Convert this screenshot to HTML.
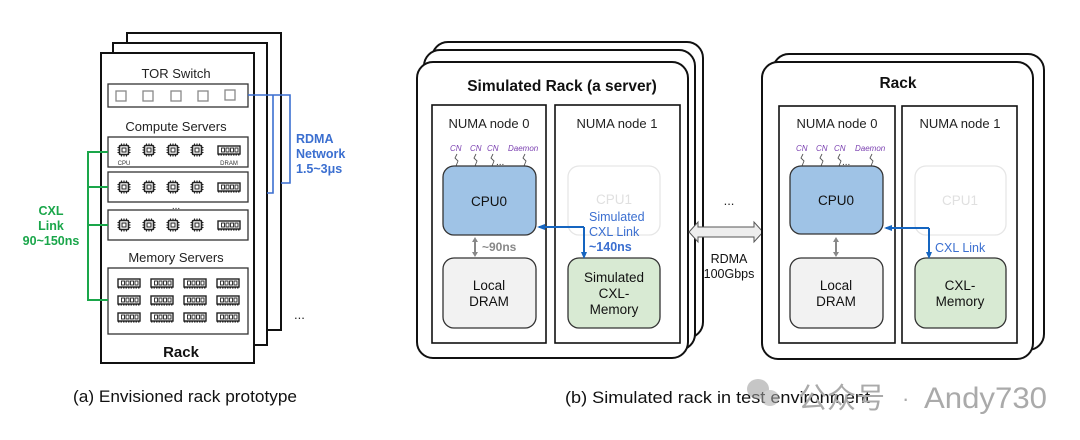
<!DOCTYPE html>
<html><head><meta charset="utf-8"><style>
html,body{margin:0;padding:0;background:#fff;}
svg{display:block;font-family:"Liberation Sans",Arial,sans-serif;}
</style></head><body>
<svg width="1080" height="440" viewBox="0 0 1080 440" xmlns="http://www.w3.org/2000/svg">
<defs>
<g id="chip">
<rect x="-4.5" y="-4.5" width="9" height="9" rx="1" fill="none" stroke="#222" stroke-width="1.6"/>
<rect x="-2" y="-2" width="4" height="4" fill="none" stroke="#222" stroke-width="1"/>
<path d="M-2.5,-4.5v-2M0,-4.5v-2M2.5,-4.5v-2M-2.5,4.5v2M0,4.5v2M2.5,4.5v2M-4.5,-2.5h-2M-4.5,0h-2M-4.5,2.5h-2M4.5,-2.5h2M4.5,0h2M4.5,2.5h2" stroke="#222" stroke-width="1.1"/>
</g>
<g id="dram">
<rect x="-11" y="-4" width="22" height="8" fill="none" stroke="#222" stroke-width="1.4"/>
<rect x="-7.5" y="-2" width="3" height="4" fill="none" stroke="#222" stroke-width="0.9"/>
<rect x="-3" y="-2" width="3" height="4" fill="none" stroke="#222" stroke-width="0.9"/>
<rect x="1.5" y="-2" width="3" height="4" fill="none" stroke="#222" stroke-width="0.9"/>
<rect x="6" y="-2" width="3" height="4" fill="none" stroke="#222" stroke-width="0.9"/>
<path d="M-11,5h22" stroke="#222" stroke-width="1" stroke-dasharray="1.5 1"/>
</g>
</defs>

<!-- (a) rack stacks -->
<rect x="127" y="33" width="154" height="297" fill="#fff" stroke="#111" stroke-width="2"/>
<rect x="113" y="43" width="154" height="302" fill="#fff" stroke="#111" stroke-width="2"/>
<rect x="101" y="53" width="153" height="310" fill="#fff" stroke="#111" stroke-width="2"/>
<text x="176" y="78" font-size="13" text-anchor="middle" fill="#222">TOR Switch</text>
<rect x="108" y="84" width="140" height="23" fill="#fff" stroke="#333" stroke-width="1.3"/>
<g fill="none" stroke="#888" stroke-width="1.3">
<rect x="116" y="91" width="10" height="10"/><rect x="143" y="91" width="10" height="10"/><rect x="171" y="91" width="10" height="10"/><rect x="198" y="91" width="10" height="10"/><rect x="225" y="90" width="10" height="10"/>
</g>
<text x="176" y="131" font-size="13" text-anchor="middle" fill="#222">Compute Servers</text>
<rect x="108" y="137" width="140" height="30" fill="#fff" stroke="#333" stroke-width="1.3"/>
<rect x="108" y="172" width="140" height="30" fill="#fff" stroke="#333" stroke-width="1.3"/>
<rect x="108" y="210" width="140" height="30" fill="#fff" stroke="#333" stroke-width="1.3"/>
<text x="176" y="209" font-size="10" text-anchor="middle" fill="#222">...</text>
<use href="#chip" x="124" y="150"/><use href="#chip" x="149" y="150"/><use href="#chip" x="173" y="150"/><use href="#chip" x="197" y="150"/><use href="#dram" x="229" y="150"/>
<text x="124" y="165" font-size="6" text-anchor="middle" fill="#333">CPU</text>
<text x="229" y="165" font-size="6" text-anchor="middle" fill="#333">DRAM</text>
<use href="#chip" x="124" y="187"/><use href="#chip" x="149" y="187"/><use href="#chip" x="173" y="187"/><use href="#chip" x="197" y="187"/><use href="#dram" x="229" y="187"/>
<use href="#chip" x="124" y="225"/><use href="#chip" x="149" y="225"/><use href="#chip" x="173" y="225"/><use href="#chip" x="197" y="225"/><use href="#dram" x="229" y="225"/>
<text x="176" y="262" font-size="13" text-anchor="middle" fill="#222">Memory Servers</text>
<rect x="108" y="268" width="140" height="66" fill="#fff" stroke="#333" stroke-width="1.3"/>
<use href="#dram" x="129" y="283"/><use href="#dram" x="162" y="283"/><use href="#dram" x="195" y="283"/><use href="#dram" x="228" y="283"/>
<use href="#dram" x="129" y="300"/><use href="#dram" x="162" y="300"/><use href="#dram" x="195" y="300"/><use href="#dram" x="228" y="300"/>
<use href="#dram" x="129" y="317"/><use href="#dram" x="162" y="317"/><use href="#dram" x="195" y="317"/><use href="#dram" x="228" y="317"/>
<text x="181" y="357" font-size="15" font-weight="bold" text-anchor="middle" fill="#111">Rack</text>
<text x="294" y="319" font-size="13" fill="#222">...</text>
<!-- green CXL -->
<path d="M108,152H88V300H108M88,187H108M88,225H108" fill="none" stroke="#1aa64a" stroke-width="2"/>
<text font-size="12.5" font-weight="bold" fill="#1aa64a" text-anchor="middle"><tspan x="51" y="215">CXL</tspan><tspan x="51" y="230">Link</tspan><tspan x="51" y="245">90~150ns</tspan></text>
<!-- blue RDMA -->
<path d="M248,95H290V183H281M254,95H273V193H267" fill="none" stroke="#3b6fd0" stroke-width="1.6"/>
<text font-size="12.5" font-weight="bold" fill="#3b6fd0"><tspan x="296" y="143">RDMA</tspan><tspan x="296" y="158">Network</tspan><tspan x="296" y="173">1.5~3μs</tspan></text>
<text x="73" y="402" font-size="16.5" fill="#111" textLength="224" lengthAdjust="spacingAndGlyphs">(a) Envisioned rack prototype</text>

<!-- (b) simulated rack -->
<rect x="432" y="42" width="271" height="296" rx="16" fill="#fff" stroke="#111" stroke-width="2"/>
<rect x="424" y="50" width="271" height="300" rx="16" fill="#fff" stroke="#111" stroke-width="2"/>
<rect x="417" y="62" width="271" height="296" rx="16" fill="#fff" stroke="#111" stroke-width="2"/>
<text x="562" y="91" font-size="15.5" font-weight="bold" text-anchor="middle" fill="#111">Simulated Rack (a server)</text>
<rect x="432" y="105" width="114" height="238" fill="#fff" stroke="#111" stroke-width="1.6"/>
<rect x="555" y="105" width="125" height="238" fill="#fff" stroke="#111" stroke-width="1.6"/>
<text x="489" y="128" font-size="13" text-anchor="middle" fill="#222">NUMA node 0</text>
<text x="617" y="128" font-size="13" text-anchor="middle" fill="#222">NUMA node 1</text>
<g font-size="8" font-style="italic" fill="#7a3fb0"><text x="450" y="151">CN</text><text x="470" y="151">CN</text><text x="487" y="151">CN</text><text x="508" y="151">Daemon</text></g>
<path d="M457,154l-2,4l3,3l-2,5M476,154l-2,4l3,3l-2,5M493,154l-2,4l3,3l-2,5M525,154l-2,4l3,3l-2,5" fill="none" stroke="#555" stroke-width="0.9"/>
<text x="496" y="165" font-size="10" fill="#333">...</text>
<rect x="443" y="166" width="93" height="69" rx="11" fill="#9fc3e6" stroke="#333" stroke-width="1.3"/>
<text x="489" y="206" font-size="13.5" text-anchor="middle" fill="#111">CPU0</text>
<rect x="568" y="166" width="92" height="69" rx="11" fill="#fff" stroke="#e6e6e6" stroke-width="1.3"/>
<text x="614" y="204" font-size="13.5" text-anchor="middle" fill="#e0e0e0">CPU1</text>
<rect x="443" y="258" width="93" height="70" rx="11" fill="#f2f2f2" stroke="#333" stroke-width="1.3"/>
<text x="489" y="290" font-size="13.5" text-anchor="middle" fill="#111">Local</text>
<text x="489" y="306" font-size="13.5" text-anchor="middle" fill="#111">DRAM</text>
<rect x="568" y="258" width="92" height="70" rx="11" fill="#d8ead3" stroke="#333" stroke-width="1.3"/>
<text font-size="13.5" text-anchor="middle" fill="#111"><tspan x="614" y="282">Simulated</tspan><tspan x="614" y="298">CXL-</tspan><tspan x="614" y="314">Memory</tspan></text>
<path d="M475,240V254" stroke="#888" stroke-width="2"/>
<path d="M472,242L475,237L478,242z M472,252L475,257L478,252z" fill="#888"/>
<text x="482" y="251" font-size="12" font-weight="bold" fill="#888">~90ns</text>
<path d="M584,227H539M584,227V256" fill="none" stroke="#1565c0" stroke-width="2"/>
<path d="M545,224L537,227L545,230z" fill="#1565c0"/><path d="M581,252L584,259L587,252z" fill="#1565c0"/>
<text font-size="12.5" fill="#3b6fd0"><tspan x="589" y="221">Simulated</tspan><tspan x="589" y="236">CXL Link</tspan><tspan x="589" y="251" font-weight="bold">~140ns</tspan></text>

<!-- RDMA double arrow -->
<path d="M689,232L698,222V227H754V222L763,232L754,242V237H698V242Z" fill="#eee" stroke="#555" stroke-width="1"/>
<text x="729" y="205" font-size="13" text-anchor="middle" fill="#222">...</text>
<text x="729" y="263" font-size="12.5" text-anchor="middle" fill="#111">RDMA</text>
<text x="729" y="278" font-size="12.5" text-anchor="middle" fill="#111">100Gbps</text>

<!-- right rack -->
<rect x="773" y="54" width="271" height="296" rx="16" fill="#fff" stroke="#111" stroke-width="2"/>
<rect x="762" y="62" width="271" height="297" rx="16" fill="#fff" stroke="#111" stroke-width="2"/>
<text x="898" y="88" font-size="15.5" font-weight="bold" text-anchor="middle" fill="#111">Rack</text>
<rect x="779" y="106" width="116" height="237" fill="#fff" stroke="#111" stroke-width="1.6"/>
<rect x="902" y="106" width="115" height="237" fill="#fff" stroke="#111" stroke-width="1.6"/>
<text x="837" y="128" font-size="13" text-anchor="middle" fill="#222">NUMA node 0</text>
<text x="960" y="128" font-size="13" text-anchor="middle" fill="#222">NUMA node 1</text>
<g font-size="8" font-style="italic" fill="#7a3fb0"><text x="796" y="151">CN</text><text x="816" y="151">CN</text><text x="834" y="151">CN</text><text x="855" y="151">Daemon</text></g>
<path d="M803,154l-2,4l3,3l-2,5M822,154l-2,4l3,3l-2,5M840,154l-2,4l3,3l-2,5M872,154l-2,4l3,3l-2,5" fill="none" stroke="#555" stroke-width="0.9"/>
<text x="842" y="165" font-size="10" fill="#333">...</text>
<rect x="790" y="166" width="93" height="68" rx="11" fill="#9fc3e6" stroke="#333" stroke-width="1.3"/>
<text x="836" y="205" font-size="13.5" text-anchor="middle" fill="#111">CPU0</text>
<rect x="915" y="166" width="91" height="69" rx="11" fill="#fff" stroke="#e6e6e6" stroke-width="1.3"/>
<text x="960" y="205" font-size="13.5" text-anchor="middle" fill="#e0e0e0">CPU1</text>
<rect x="790" y="258" width="93" height="70" rx="11" fill="#f2f2f2" stroke="#333" stroke-width="1.3"/>
<text x="836" y="290" font-size="13.5" text-anchor="middle" fill="#111">Local</text>
<text x="836" y="306" font-size="13.5" text-anchor="middle" fill="#111">DRAM</text>
<rect x="915" y="258" width="91" height="70" rx="11" fill="#d8ead3" stroke="#333" stroke-width="1.3"/>
<text x="960" y="290" font-size="13.5" text-anchor="middle" fill="#111">CXL-</text>
<text x="960" y="306" font-size="13.5" text-anchor="middle" fill="#111">Memory</text>
<path d="M836,240V254" stroke="#888" stroke-width="2"/>
<path d="M833,242L836,237L839,242z M833,252L836,257L839,252z" fill="#888"/>
<path d="M929,228H886M929,228V256" fill="none" stroke="#1565c0" stroke-width="2"/>
<path d="M892,225L884,228L892,231z" fill="#1565c0"/><path d="M926,252L929,259L932,252z" fill="#1565c0"/>
<text x="935" y="252" font-size="12.5" fill="#3b6fd0">CXL Link</text>

<text x="565" y="403" font-size="16.5" fill="#111" textLength="305" lengthAdjust="spacingAndGlyphs">(b) Simulated rack in test environment</text>

<!-- watermark -->
<g opacity="0.55">
<ellipse cx="758" cy="389" rx="11" ry="10" fill="#999"/>
<ellipse cx="770" cy="398" rx="9" ry="8" fill="#aaa"/>
</g>
<text x="798" y="408" font-size="29" fill="#aaa" font-family="'Noto Sans CJK SC',sans-serif">公众号</text>
<text x="902" y="406" font-size="22" fill="#aaa">·</text>
<text x="924" y="408" font-size="30" fill="#aaa" textLength="123" lengthAdjust="spacingAndGlyphs">Andy730</text>
</svg>
</body></html>
